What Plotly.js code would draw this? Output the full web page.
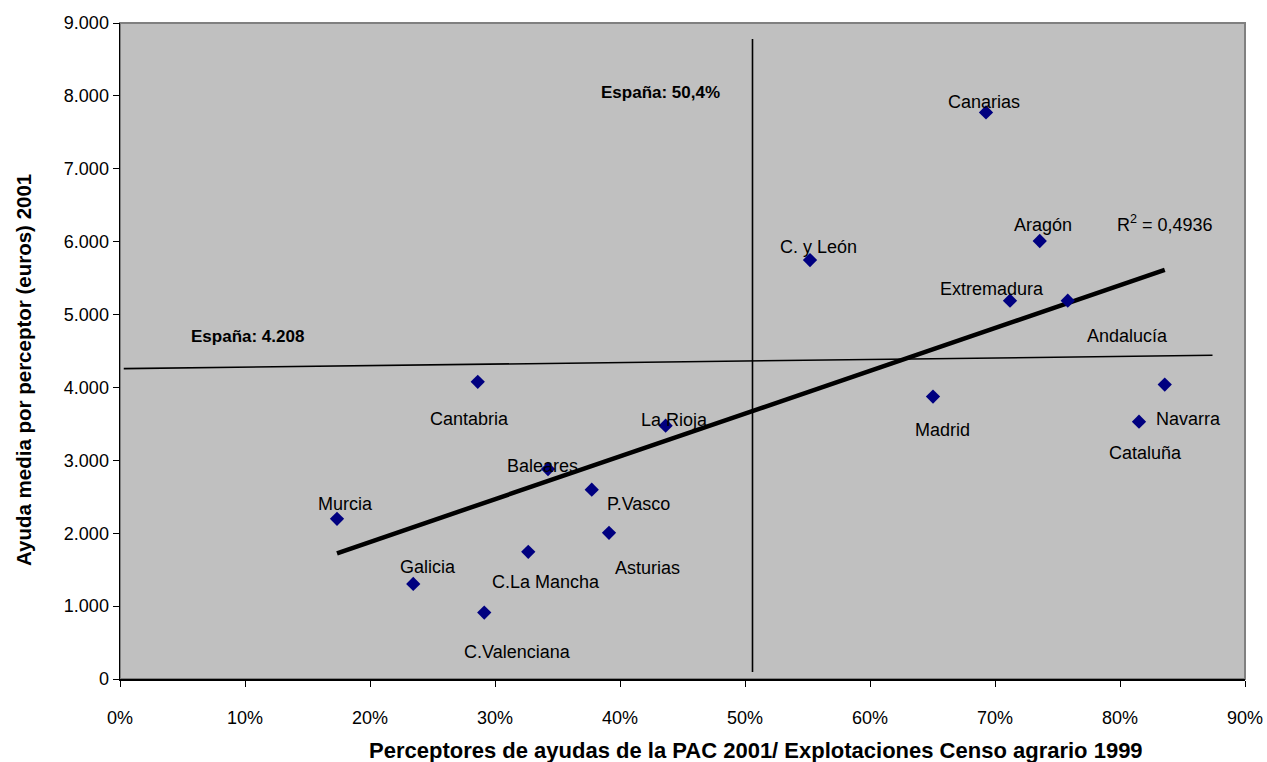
<!DOCTYPE html>
<html>
<head>
<meta charset="utf-8">
<script src="https://cdn.plot.ly/plotly-3.0.1.min.js"></script>
<style>
html,body{margin:0;padding:0;background:#fff;}
#chart{width:1267px;height:762px;}
</style>
</head>
<body>
<div id="chart"></div>
<script>
// ---- Data ----
const regions = ["Murcia","Galicia","Cantabria","C.Valenciana","C.La Mancha","Baleares","P.Vasco","Asturias","La Rioja","C. y León","Madrid","Canarias","Extremadura","Aragón","Andalucía","Cataluña","Navarra"];
const perceptoresPct = [0.1736,0.2346,0.2862,0.2914,0.3266,0.3424,0.3774,0.3912,0.4365,0.5520,0.6504,0.6928,0.7120,0.7358,0.7582,0.8152,0.8358];
const ayudaMedia = [2198,1305,4077,911,1745,2881,2597,2006,3476,5748,3875,7773,5190,6009,5190,3531,4040];
// Reference lines for Spain as drawn in the chart
const espanaVertX = [0.506,0.506];
const espanaVertY = [96,8780];
const espanaHorX = [0.003,0.874];
const espanaHorY = [4258,4441];
const espanaPctLabel = "España: 50,4%";
const espanaAyudaLabel = "España: 4.208";
const r2Label = "R<sup>2</sup> = 0,4936";
const xTitle = "Perceptores de ayudas de la PAC 2001/ Explotaciones Censo agrario 1999";
const yTitle = "Ayuda media por perceptor (euros) 2001";
const xTickVals = [0,0.1,0.2,0.3,0.4,0.5,0.6,0.7,0.8,0.9];
const yTickVals = [0,1000,2000,3000,4000,5000,6000,7000,8000,9000];

// ---- Label placement (pixel offsets from each point) ----
const labelShift = {
  "Murcia":[8,15],"Galicia":[15,17],"Cantabria":[-8,-37],"C.Valenciana":[33,-39],
  "C.La Mancha":[18,-30],"Baleares":[-6,3],"P.Vasco":[47,-14],"Asturias":[38,-35],
  "La Rioja":[9,6],"C. y León":[8,13],"Madrid":[9,-33],"Canarias":[-2,10],
  "Extremadura":[-18,12],"Aragón":[3,16],"Andalucía":[60,-35],"Cataluña":[6,-31],"Navarra":[24,-34]
};

// ---- Linear trend (least squares from the data) ----
const n = perceptoresPct.length;
const mx = perceptoresPct.reduce((a,b)=>a+b,0)/n;
const my = ayudaMedia.reduce((a,b)=>a+b,0)/n;
let sxy=0, sxx=0;
for(let i=0;i<n;i++){sxy+=(perceptoresPct[i]-mx)*(ayudaMedia[i]-my);sxx+=(perceptoresPct[i]-mx)**2;}
const slope = sxy/sxx, intercept = my - slope*mx;
const xmin = Math.min(...perceptoresPct), xmax = Math.max(...perceptoresPct);
const trendX = [xmin,xmax];
const trendY = trendX.map(v=>intercept+slope*v);

const FONT = "Liberation Sans, Arial, sans-serif";

const traces = [
  {x:espanaHorX,y:espanaHorY,mode:"lines",line:{color:"#000",width:1.6},hoverinfo:"skip",showlegend:false},
  {x:espanaVertX,y:espanaVertY,mode:"lines",line:{color:"#000",width:1.6},hoverinfo:"skip",showlegend:false},
  {x:trendX,y:trendY,mode:"lines",line:{color:"#000",width:4.5},hoverinfo:"skip",showlegend:false},
  {x:perceptoresPct,y:ayudaMedia,text:regions,mode:"markers",type:"scatter",
   marker:{symbol:"diamond",size:11,color:"#000080",line:{width:0}},showlegend:false}
];

const annotations = regions.map((r,i)=>({
  x:perceptoresPct[i],y:ayudaMedia[i],xref:"x",yref:"y",text:r,showarrow:false,
  xshift:labelShift[r][0],yshift:labelShift[r][1],
  font:{family:FONT,size:18,color:"#000"}
}));
annotations.push(
  {x:0.432,y:8000,xref:"x",yref:"y",text:"<b>"+espanaPctLabel+"</b>",showarrow:false,xshift:0,yshift:3,font:{family:FONT,size:17,color:"#000"}},
  {x:0.102,y:4700,xref:"x",yref:"y",text:"<b>"+espanaAyudaLabel+"</b>",showarrow:false,xshift:0,yshift:0,font:{family:FONT,size:17,color:"#000"}},
  {x:0.8358,y:5610,xref:"x",yref:"y",text:r2Label,showarrow:false,xshift:0,yshift:47,font:{family:FONT,size:18,color:"#000"}},
  {x:0.565,y:0,xref:"paper",yref:"paper",xanchor:"center",yanchor:"middle",text:"<b>"+xTitle+"</b>",showarrow:false,yshift:-71,font:{family:FONT,size:22,color:"#000"}},
  {x:0,y:0.471,xref:"paper",yref:"paper",xanchor:"center",yanchor:"middle",text:"<b>"+yTitle+"</b>",textangle:-90,showarrow:false,xshift:-97,font:{family:FONT,size:20.5,color:"#000"}}
);

const layout = {
  width:1267,height:762,
  margin:{l:120,r:22,t:23,b:83},
  paper_bgcolor:"#fff",plot_bgcolor:"#C0C0C0",
  separators:",.",
  font:{family:FONT,size:18,color:"#000"},
  showlegend:false,
  xaxis:{range:[0,0.9],tickvals:xTickVals,tickformat:".0%",showgrid:false,zeroline:false,
         showline:true,linecolor:"#000",linewidth:1.5,ticks:"outside",ticklen:6,tickcolor:"#000",
         ticklabelstandoff:16,tickfont:{family:FONT,size:18}},
  yaxis:{range:[0,9000],tickvals:yTickVals,tickformat:",.0f",showgrid:false,zeroline:false,
         showline:true,linecolor:"#000",linewidth:1.5,ticks:"outside",ticklen:6,tickcolor:"#000",
         tickfont:{family:FONT,size:18}},
  shapes:[{type:"rect",xref:"paper",yref:"paper",x0:0,x1:1,y0:0,y1:1,line:{color:"#808080",width:2},layer:"below"}],
  annotations:annotations
};

Plotly.newPlot("chart",traces,layout,{displayModeBar:false,staticPlot:true});
</script>
</body>
</html>
